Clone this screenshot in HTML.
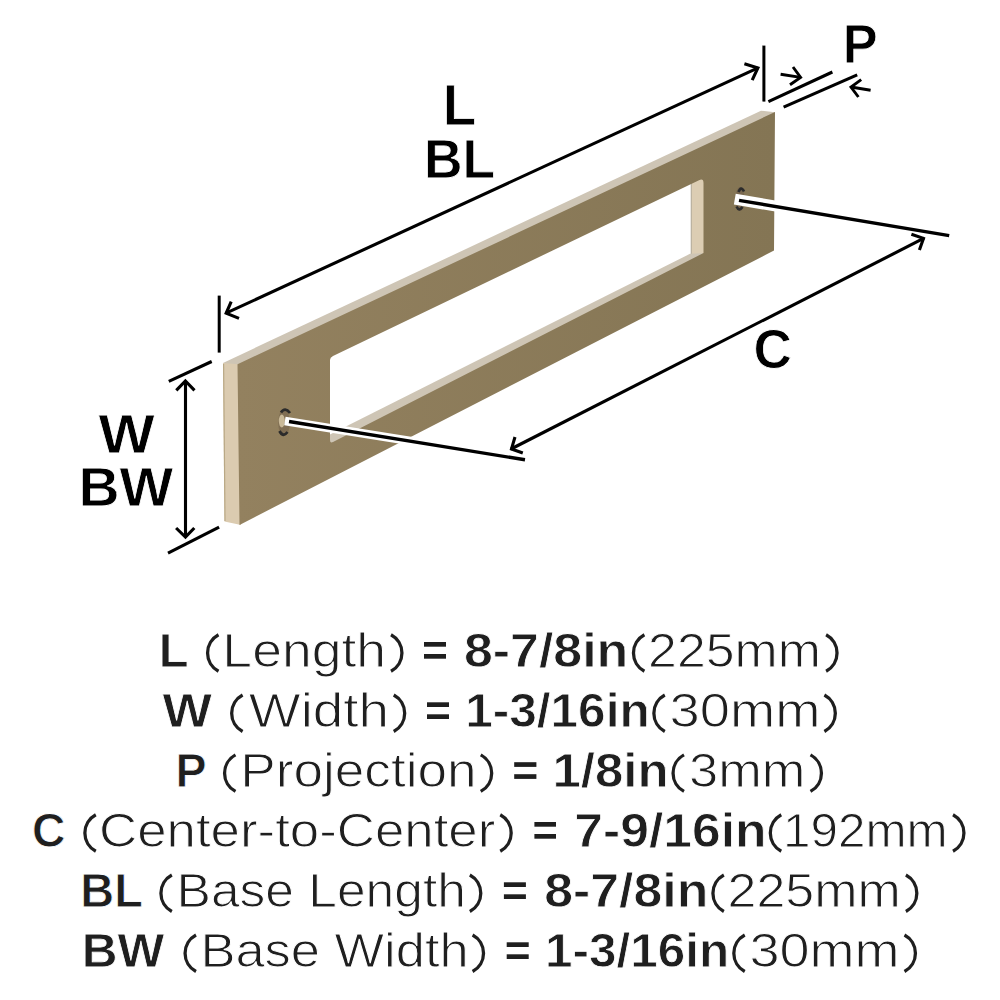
<!DOCTYPE html>
<html><head><meta charset="utf-8"><style>
html,body{margin:0;padding:0;background:#fff;}
body{width:1000px;height:1000px;overflow:hidden;position:relative;}
svg{position:absolute;left:0;top:0;}
text{font-family:"Liberation Sans",sans-serif;font-kerning:none;}
</style></head><body>
<svg width="1000" height="1000" viewBox="0 0 1000 1000">
<defs>
<linearGradient id="bg" x1="238" y1="0" x2="774" y2="0" gradientUnits="userSpaceOnUse">
<stop offset="0" stop-color="#93815f"/><stop offset="1" stop-color="#847554"/>
</linearGradient>
</defs>
<polygon points="223,362.9 761,110.7 775,112.2 775,114.5 237.5,366.6 223,365" fill="#cec5b5"/>
<polygon points="223,362.9 239,364.3 241,524.9 224.5,521.5" fill="#dbcbb0"/><line x1="223.6" y1="364" x2="225" y2="521" stroke="#b9a885" stroke-width="1.2"/>
<polygon points="691,176 706,176 706,258 691,258" fill="#dccdb3"/>
<line x1="691.3" y1="176" x2="691.3" y2="254" stroke="#b8b0a0" stroke-width="1.2"/>
<polygon points="320,439.4 690,253.8 706,253 706,262 320,452" fill="#cec5b5"/>
<path fill-rule="evenodd" fill="url(#bg)" d="M237.5,364.3 L775,112 L774,250.5 L239.5,524.9 Z M333,356 L699,180.2 Q703.5,178.2 703.5,183 L703.5,253 L333,442.1 Q330,443.5 330,440 L330,360 Q330,357.4 333,356 Z"/>
<ellipse cx="284" cy="422.5" rx="5.8" ry="13.5" fill="#806e53"/>
<ellipse cx="281.8" cy="421" rx="3" ry="6.5" fill="#c9b998"/>
<path d="M281,412.5 Q285,406.5 290,413" fill="none" stroke="#2b2b2b" stroke-width="2.8"/>
<path d="M279.5,431 Q283,438 287.5,432" fill="none" stroke="#2b2b2b" stroke-width="2.8"/>
<ellipse cx="740" cy="199" rx="4.5" ry="12" fill="#78674f"/>
<path d="M738.5,192 Q741,185.5 744,191.5" fill="none" stroke="#2b2b2b" stroke-width="2.6"/>
<path d="M736.5,206.5 Q739,212 742.5,207" fill="none" stroke="#2b2b2b" stroke-width="2.6"/>
<line x1="284.9" y1="421.0" x2="525.2" y2="459.4" stroke="#fff" stroke-width="8.6" stroke-linecap="butt"/>
<line x1="289" y1="421.5" x2="525" y2="459.8" stroke="#000" stroke-width="3.4" stroke-linecap="butt"/>
<line x1="734.8" y1="199.1" x2="949.2" y2="235.6" stroke="#fff" stroke-width="11" stroke-linecap="butt"/>
<line x1="739" y1="200.4" x2="949.2" y2="235.6" stroke="#000" stroke-width="3.4" stroke-linecap="butt"/>
<line x1="226" y1="313.2" x2="758" y2="67.8" stroke="#000" stroke-width="3.1" stroke-linecap="butt"/>
<polyline points="231.2,301.6 226.14,313.26 239,318.4" fill="none" stroke="#000" stroke-width="3.1" stroke-linejoin="miter" stroke-miterlimit="10"/>
<polyline points="744.4,63.8 757.88,67.99 752.2,80.2" fill="none" stroke="#000" stroke-width="3.1" stroke-linejoin="miter" stroke-miterlimit="10"/>
<line x1="219.2" y1="295.6" x2="219.2" y2="352.6" stroke="#000" stroke-width="3.0" stroke-linecap="butt"/>
<line x1="763.9" y1="45.6" x2="763.9" y2="101.6" stroke="#000" stroke-width="3.0" stroke-linecap="butt"/>
<line x1="185.5" y1="381" x2="185.5" y2="537" stroke="#000" stroke-width="3.1" stroke-linecap="butt"/>
<line x1="168.8" y1="381.3" x2="211.7" y2="361.5" stroke="#000" stroke-width="3.1" stroke-linecap="butt"/>
<line x1="168" y1="553.1" x2="219.1" y2="527.2" stroke="#000" stroke-width="3.1" stroke-linecap="butt"/>
<polyline points="176.3,390.4 185.40,381.00 194.5,390.4" fill="none" stroke="#000" stroke-width="3.1" stroke-linejoin="miter" stroke-miterlimit="10"/>
<polyline points="176.1,528 185.47,537.10 194.3,528" fill="none" stroke="#000" stroke-width="3.1" stroke-linejoin="miter" stroke-miterlimit="10"/>
<line x1="768.4" y1="101.6" x2="832.4" y2="72" stroke="#000" stroke-width="3.1" stroke-linecap="butt"/>
<line x1="783.6" y1="107.2" x2="857.2" y2="74.9" stroke="#000" stroke-width="3.1" stroke-linecap="butt"/>
<line x1="780.6" y1="74.2" x2="800.6" y2="77.4" stroke="#000" stroke-width="2.9" stroke-linecap="butt"/>
<polyline points="793,67 800.61,77.43 790,84.8" fill="none" stroke="#000" stroke-width="2.9" stroke-linejoin="miter" stroke-miterlimit="10"/>
<line x1="851" y1="87" x2="870.6" y2="90.2" stroke="#000" stroke-width="2.9" stroke-linecap="butt"/>
<polyline points="861.2,79.6 850.99,87.13 858.4,97" fill="none" stroke="#000" stroke-width="2.9" stroke-linejoin="miter" stroke-miterlimit="10"/>
<line x1="511" y1="449" x2="924" y2="238.2" stroke="#000" stroke-width="3.1" stroke-linecap="butt"/>
<polyline points="515,437 511.48,448.93 522.8,453" fill="none" stroke="#000" stroke-width="3.1" stroke-linejoin="miter" stroke-miterlimit="10"/>
<polyline points="911.4,234.2 923.49,238.41 919.4,250" fill="none" stroke="#000" stroke-width="3.1" stroke-linejoin="miter" stroke-miterlimit="10"/>
<text x="442.80" y="124.80" font-size="57.16" font-weight="bold" textLength="33.49" lengthAdjust="spacingAndGlyphs" fill="#000" stroke="#fff" stroke-width="0.8" xml:space="preserve">L</text>
<text x="424.00" y="178.00" font-size="56.15" font-weight="bold" textLength="71.13" lengthAdjust="spacingAndGlyphs" fill="#000" stroke="#fff" stroke-width="0.8" xml:space="preserve">BL</text>
<text x="842.86" y="62.80" font-size="55.85" font-weight="bold" textLength="34.94" lengthAdjust="spacingAndGlyphs" fill="#000" stroke="#fff" stroke-width="0.8" xml:space="preserve">P</text>
<text x="753.47" y="368.40" font-size="54.69" font-weight="bold" textLength="38.37" lengthAdjust="spacingAndGlyphs" fill="#000" stroke="#fff" stroke-width="0.8" xml:space="preserve">C</text>
<text x="98.45" y="453.20" font-size="56.15" font-weight="bold" textLength="56.23" lengthAdjust="spacingAndGlyphs" fill="#000" stroke="#fff" stroke-width="0.8" xml:space="preserve">W</text>
<text x="78.56" y="506.00" font-size="55.27" font-weight="bold" textLength="94.70" lengthAdjust="spacingAndGlyphs" fill="#000" stroke="#fff" stroke-width="0.8" xml:space="preserve">BW</text>

<text x="158.81" y="666.90" font-size="48.58" font-weight="bold" textLength="29.80" lengthAdjust="spacingAndGlyphs" fill="#1f1f1f" stroke="#fff" stroke-width="0.8" xml:space="preserve">L</text>
<path d="M218.50,634.70 A20.7,20.7 0 0 0 218.50,671.20" fill="none" stroke="#1f1f1f" stroke-width="3.3"/>
<text x="222.39" y="667.00" font-size="48.87" font-weight="normal" textLength="163.66" lengthAdjust="spacingAndGlyphs" fill="#1f1f1f" stroke="#fff" stroke-width="1.0" xml:space="preserve">Length</text>
<path d="M391.00,634.70 A20.7,20.7 0 0 1 391.00,671.20" fill="none" stroke="#1f1f1f" stroke-width="3.3"/>
<rect x="424" y="642.00" width="22.00" height="4.7" fill="#1f1f1f"/><rect x="424" y="654.00" width="22.00" height="4.7" fill="#1f1f1f"/>
<text x="463.91" y="666.90" font-size="48.58" font-weight="bold" textLength="164.38" lengthAdjust="spacingAndGlyphs" fill="#1f1f1f" stroke="#fff" stroke-width="0.8" xml:space="preserve">8-7/8in</text>
<path d="M644.40,634.70 A20.7,20.7 0 0 0 644.40,671.20" fill="none" stroke="#1f1f1f" stroke-width="3.3"/>
<text x="648.11" y="667.00" font-size="48.87" font-weight="normal" textLength="172.73" lengthAdjust="spacingAndGlyphs" fill="#1f1f1f" stroke="#fff" stroke-width="1.0" xml:space="preserve">225mm</text>
<path d="M826.10,634.70 A20.7,20.7 0 0 1 826.10,671.20" fill="none" stroke="#1f1f1f" stroke-width="3.3"/>
<text x="162.47" y="727.20" font-size="48.58" font-weight="bold" textLength="49.50" lengthAdjust="spacingAndGlyphs" fill="#1f1f1f" stroke="#fff" stroke-width="0.8" xml:space="preserve">W</text>
<path d="M242.60,695.00 A20.7,20.7 0 0 0 242.60,731.50" fill="none" stroke="#1f1f1f" stroke-width="3.3"/>
<text x="248.83" y="727.30" font-size="48.87" font-weight="normal" textLength="140.31" lengthAdjust="spacingAndGlyphs" fill="#1f1f1f" stroke="#fff" stroke-width="1.0" xml:space="preserve">Width</text>
<path d="M393.75,695.00 A20.7,20.7 0 0 1 393.75,731.50" fill="none" stroke="#1f1f1f" stroke-width="3.3"/>
<rect x="427" y="702.30" width="22.00" height="4.7" fill="#1f1f1f"/><rect x="427" y="714.30" width="22.00" height="4.7" fill="#1f1f1f"/>
<text x="465.26" y="727.20" font-size="48.58" font-weight="bold" textLength="184.40" lengthAdjust="spacingAndGlyphs" fill="#1f1f1f" stroke="#fff" stroke-width="0.8" xml:space="preserve">1-3/16in</text>
<path d="M664.80,695.00 A20.7,20.7 0 0 0 664.80,731.50" fill="none" stroke="#1f1f1f" stroke-width="3.3"/>
<text x="669.56" y="727.30" font-size="48.87" font-weight="normal" textLength="150.91" lengthAdjust="spacingAndGlyphs" fill="#1f1f1f" stroke="#fff" stroke-width="1.0" xml:space="preserve">30mm</text>
<path d="M824.40,695.00 A20.7,20.7 0 0 1 824.40,731.50" fill="none" stroke="#1f1f1f" stroke-width="3.3"/>
<text x="175.46" y="787.10" font-size="48.58" font-weight="bold" textLength="31.05" lengthAdjust="spacingAndGlyphs" fill="#1f1f1f" stroke="#fff" stroke-width="0.8" xml:space="preserve">P</text>
<path d="M235.50,754.90 A20.7,20.7 0 0 0 235.50,791.40" fill="none" stroke="#1f1f1f" stroke-width="3.3"/>
<text x="240.32" y="787.20" font-size="48.87" font-weight="normal" textLength="236.24" lengthAdjust="spacingAndGlyphs" fill="#1f1f1f" stroke="#fff" stroke-width="1.0" xml:space="preserve">Projection</text>
<path d="M480.75,754.90 A20.7,20.7 0 0 1 480.75,791.40" fill="none" stroke="#1f1f1f" stroke-width="3.3"/>
<rect x="514.2" y="762.20" width="22.20" height="4.7" fill="#1f1f1f"/><rect x="514.2" y="774.20" width="22.20" height="4.7" fill="#1f1f1f"/>
<text x="552.42" y="787.10" font-size="48.58" font-weight="bold" textLength="116.11" lengthAdjust="spacingAndGlyphs" fill="#1f1f1f" stroke="#fff" stroke-width="0.8" xml:space="preserve">1/8in</text>
<path d="M684.00,754.90 A20.7,20.7 0 0 0 684.00,791.40" fill="none" stroke="#1f1f1f" stroke-width="3.3"/>
<text x="689.04" y="787.20" font-size="48.87" font-weight="normal" textLength="116.35" lengthAdjust="spacingAndGlyphs" fill="#1f1f1f" stroke="#fff" stroke-width="1.0" xml:space="preserve">3mm</text>
<path d="M810.50,754.90 A20.7,20.7 0 0 1 810.50,791.40" fill="none" stroke="#1f1f1f" stroke-width="3.3"/>
<text x="31.95" y="846.90" font-size="48.58" font-weight="bold" textLength="33.41" lengthAdjust="spacingAndGlyphs" fill="#1f1f1f" stroke="#fff" stroke-width="0.8" xml:space="preserve">C</text>
<path d="M95.80,814.70 A20.7,20.7 0 0 0 95.80,851.20" fill="none" stroke="#1f1f1f" stroke-width="3.3"/>
<text x="99.06" y="847.00" font-size="48.87" font-weight="normal" textLength="396.27" lengthAdjust="spacingAndGlyphs" fill="#1f1f1f" stroke="#fff" stroke-width="1.0" xml:space="preserve">Center-to-Center</text>
<path d="M500.25,814.70 A20.7,20.7 0 0 1 500.25,851.20" fill="none" stroke="#1f1f1f" stroke-width="3.3"/>
<rect x="534.4" y="822.00" width="21.60" height="4.7" fill="#1f1f1f"/><rect x="534.4" y="834.00" width="21.60" height="4.7" fill="#1f1f1f"/>
<text x="574.31" y="846.90" font-size="48.58" font-weight="bold" textLength="192.28" lengthAdjust="spacingAndGlyphs" fill="#1f1f1f" stroke="#fff" stroke-width="0.8" xml:space="preserve">7-9/16in</text>
<path d="M781.25,814.70 A20.7,20.7 0 0 0 781.25,851.20" fill="none" stroke="#1f1f1f" stroke-width="3.3"/>
<text x="783.05" y="847.00" font-size="48.87" font-weight="normal" textLength="164.64" lengthAdjust="spacingAndGlyphs" fill="#1f1f1f" stroke="#fff" stroke-width="1.0" xml:space="preserve">192mm</text>
<path d="M953.00,814.70 A20.7,20.7 0 0 1 953.00,851.20" fill="none" stroke="#1f1f1f" stroke-width="3.3"/>
<text x="80.23" y="907.20" font-size="48.58" font-weight="bold" textLength="62.60" lengthAdjust="spacingAndGlyphs" fill="#1f1f1f" stroke="#fff" stroke-width="0.8" xml:space="preserve">BL</text>
<path d="M171.85,875.00 A20.7,20.7 0 0 0 171.85,911.50" fill="none" stroke="#1f1f1f" stroke-width="3.3"/>
<text x="176.60" y="907.30" font-size="48.87" font-weight="normal" textLength="289.29" lengthAdjust="spacingAndGlyphs" fill="#1f1f1f" stroke="#fff" stroke-width="1.0" xml:space="preserve">Base Length</text>
<path d="M469.85,875.00 A20.7,20.7 0 0 1 469.85,911.50" fill="none" stroke="#1f1f1f" stroke-width="3.3"/>
<rect x="503.9" y="882.30" width="22.00" height="4.7" fill="#1f1f1f"/><rect x="503.9" y="894.30" width="22.00" height="4.7" fill="#1f1f1f"/>
<text x="544.22" y="907.20" font-size="48.58" font-weight="bold" textLength="164.07" lengthAdjust="spacingAndGlyphs" fill="#1f1f1f" stroke="#fff" stroke-width="0.8" xml:space="preserve">8-7/8in</text>
<path d="M723.85,875.00 A20.7,20.7 0 0 0 723.85,911.50" fill="none" stroke="#1f1f1f" stroke-width="3.3"/>
<text x="727.55" y="907.30" font-size="48.87" font-weight="normal" textLength="173.20" lengthAdjust="spacingAndGlyphs" fill="#1f1f1f" stroke="#fff" stroke-width="1.0" xml:space="preserve">225mm</text>
<path d="M905.90,875.00 A20.7,20.7 0 0 1 905.90,911.50" fill="none" stroke="#1f1f1f" stroke-width="3.3"/>
<text x="81.75" y="967.20" font-size="48.58" font-weight="bold" textLength="82.60" lengthAdjust="spacingAndGlyphs" fill="#1f1f1f" stroke="#fff" stroke-width="0.8" xml:space="preserve">BW</text>
<path d="M196.00,935.00 A20.7,20.7 0 0 0 196.00,971.50" fill="none" stroke="#1f1f1f" stroke-width="3.3"/>
<text x="200.42" y="967.30" font-size="48.87" font-weight="normal" textLength="268.29" lengthAdjust="spacingAndGlyphs" fill="#1f1f1f" stroke="#fff" stroke-width="1.0" xml:space="preserve">Base Width</text>
<path d="M472.60,935.00 A20.7,20.7 0 0 1 472.60,971.50" fill="none" stroke="#1f1f1f" stroke-width="3.3"/>
<rect x="506.7" y="942.30" width="22.00" height="4.7" fill="#1f1f1f"/><rect x="506.7" y="954.30" width="22.00" height="4.7" fill="#1f1f1f"/>
<text x="545.01" y="967.20" font-size="48.58" font-weight="bold" textLength="184.09" lengthAdjust="spacingAndGlyphs" fill="#1f1f1f" stroke="#fff" stroke-width="0.8" xml:space="preserve">1-3/16in</text>
<path d="M744.75,935.00 A20.7,20.7 0 0 0 744.75,971.50" fill="none" stroke="#1f1f1f" stroke-width="3.3"/>
<text x="749.52" y="967.30" font-size="48.87" font-weight="normal" textLength="150.03" lengthAdjust="spacingAndGlyphs" fill="#1f1f1f" stroke="#fff" stroke-width="1.0" xml:space="preserve">30mm</text>
<path d="M904.50,935.00 A20.7,20.7 0 0 1 904.50,971.50" fill="none" stroke="#1f1f1f" stroke-width="3.3"/>

</svg>
</body></html>
